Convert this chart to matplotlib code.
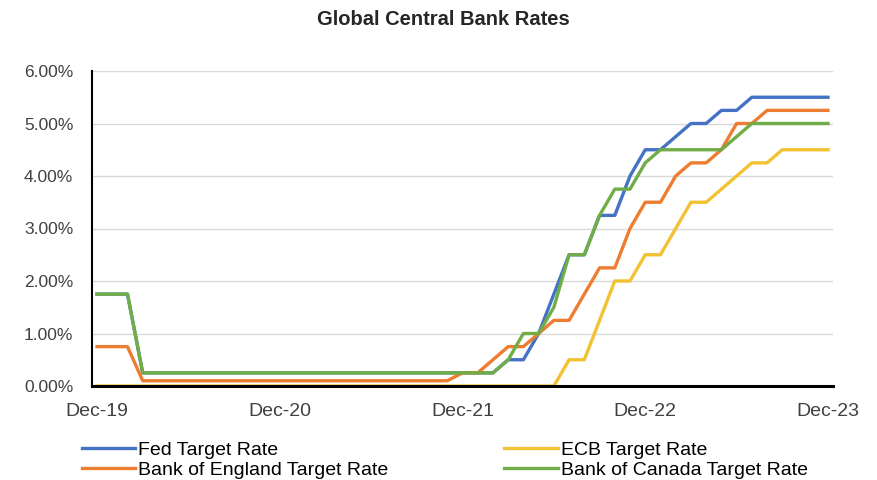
import numpy as np
import matplotlib.pyplot as plt
from matplotlib.ticker import FuncFormatter

plt.rcParams['font.family'] = ['Liberation Sans', 'DejaVu Sans']

# month-end policy rates, Dec-19 .. Dec-23 (%)
months = np.arange(49)
tick_labels = ['Dec-19', 'Dec-20', 'Dec-21', 'Dec-22', 'Dec-23']

fed = [1.75, 1.75, 1.75,
       0.25, 0.25, 0.25, 0.25, 0.25, 0.25, 0.25, 0.25, 0.25, 0.25, 0.25, 0.25,
       0.25, 0.25, 0.25, 0.25, 0.25, 0.25, 0.25, 0.25, 0.25, 0.25, 0.25, 0.25,
       0.5, 0.5, 1.0, 1.75, 2.5, 2.5, 3.25, 3.25, 4.0, 4.5,
       4.5, 4.75, 5.0, 5.0, 5.25, 5.25, 5.5, 5.5, 5.5, 5.5, 5.5, 5.5]

ecb = [0.0, 0.0, 0.0, 0.0, 0.0, 0.0, 0.0, 0.0, 0.0, 0.0, 0.0, 0.0, 0.0,
       0.0, 0.0, 0.0, 0.0, 0.0, 0.0, 0.0, 0.0, 0.0, 0.0, 0.0, 0.0,
       0.0, 0.0, 0.0, 0.0, 0.0, 0.0, 0.5, 0.5, 1.25, 2.0, 2.0, 2.5,
       2.5, 3.0, 3.5, 3.5, 3.75, 4.0, 4.25, 4.25, 4.5, 4.5, 4.5, 4.5]

boe = [0.75, 0.75, 0.75,
       0.1, 0.1, 0.1, 0.1, 0.1, 0.1, 0.1, 0.1, 0.1, 0.1,
       0.1, 0.1, 0.1, 0.1, 0.1, 0.1, 0.1, 0.1, 0.1, 0.1, 0.1, 0.25,
       0.25, 0.5, 0.75, 0.75, 1.0, 1.25, 1.25, 1.75, 2.25, 2.25, 3.0, 3.5,
       3.5, 4.0, 4.25, 4.25, 4.5, 5.0, 5.0, 5.25, 5.25, 5.25, 5.25, 5.25]

boc = [1.75, 1.75, 1.75,
       0.25, 0.25, 0.25, 0.25, 0.25, 0.25, 0.25, 0.25, 0.25, 0.25, 0.25, 0.25,
       0.25, 0.25, 0.25, 0.25, 0.25, 0.25, 0.25, 0.25, 0.25, 0.25, 0.25, 0.25,
       0.5, 1.0, 1.0, 1.5, 2.5, 2.5, 3.25, 3.75, 3.75, 4.25,
       4.5, 4.5, 4.5, 4.5, 4.5, 4.75, 5.0, 5.0, 5.0, 5.0, 5.0, 5.0]

fig = plt.figure(figsize=(8.77, 4.8), dpi=100)
ax = fig.add_axes([92 / 877, 1 - 386 / 480, (833 - 92) / 877, (386 - 71) / 480])

lw = 2.4
l_fed, = ax.plot(months, fed, color='#4472C4', lw=lw, label='Fed Target Rate', zorder=3)
l_ecb, = ax.plot(months, ecb, color='#F2C232', lw=lw, label='ECB Target Rate', zorder=2)
l_boe, = ax.plot(months, boe, color='#ED7D31', lw=lw, label='Bank of England Target Rate', zorder=4)
l_boc, = ax.plot(months, boc, color='#70AD47', lw=lw, label='Bank of Canada Target Rate', zorder=5)

ax.set_xlim(-0.33, 48.33)
ax.set_ylim(0, 6)
ax.set_yticks(np.arange(0, 6.1, 1))
ax.yaxis.set_major_formatter(FuncFormatter(lambda v, p: f'{v:.2f}%'))
ax.set_xticks(months[::12])
ax.set_xticklabels(tick_labels)
ax.tick_params(axis='both', length=0, colors='#404040')
ax.tick_params(axis='x', pad=12, labelsize=14)
ax.tick_params(axis='y', pad=13.5, labelsize=12.5)

ax.grid(axis='y', color='#D9D9D9', lw=1)
ax.set_axisbelow(True)
for s in ['top', 'right']:
    ax.spines[s].set_visible(False)
ax.spines['left'].set_linewidth(1.5)
ax.spines['bottom'].set_linewidth(2.2)
ax.spines['bottom'].set_zorder(2.5)

fig.text(0.505, 0.96, 'Global Central Bank Rates', ha='center', va='center',
         fontsize=14.5, fontweight='bold', color='#262626')

fig.legend(handles=[l_fed, l_boe, l_ecb, l_boc], ncol=2, frameon=False,
           loc='upper left', bbox_to_anchor=(82 / 877, 1 - 441 / 480),
           fontsize=14, handlelength=2.75, handletextpad=0.15,
           columnspacing=5.95, labelspacing=0.12, borderaxespad=0, borderpad=0)

fig.savefig('out.png', dpi=100)
